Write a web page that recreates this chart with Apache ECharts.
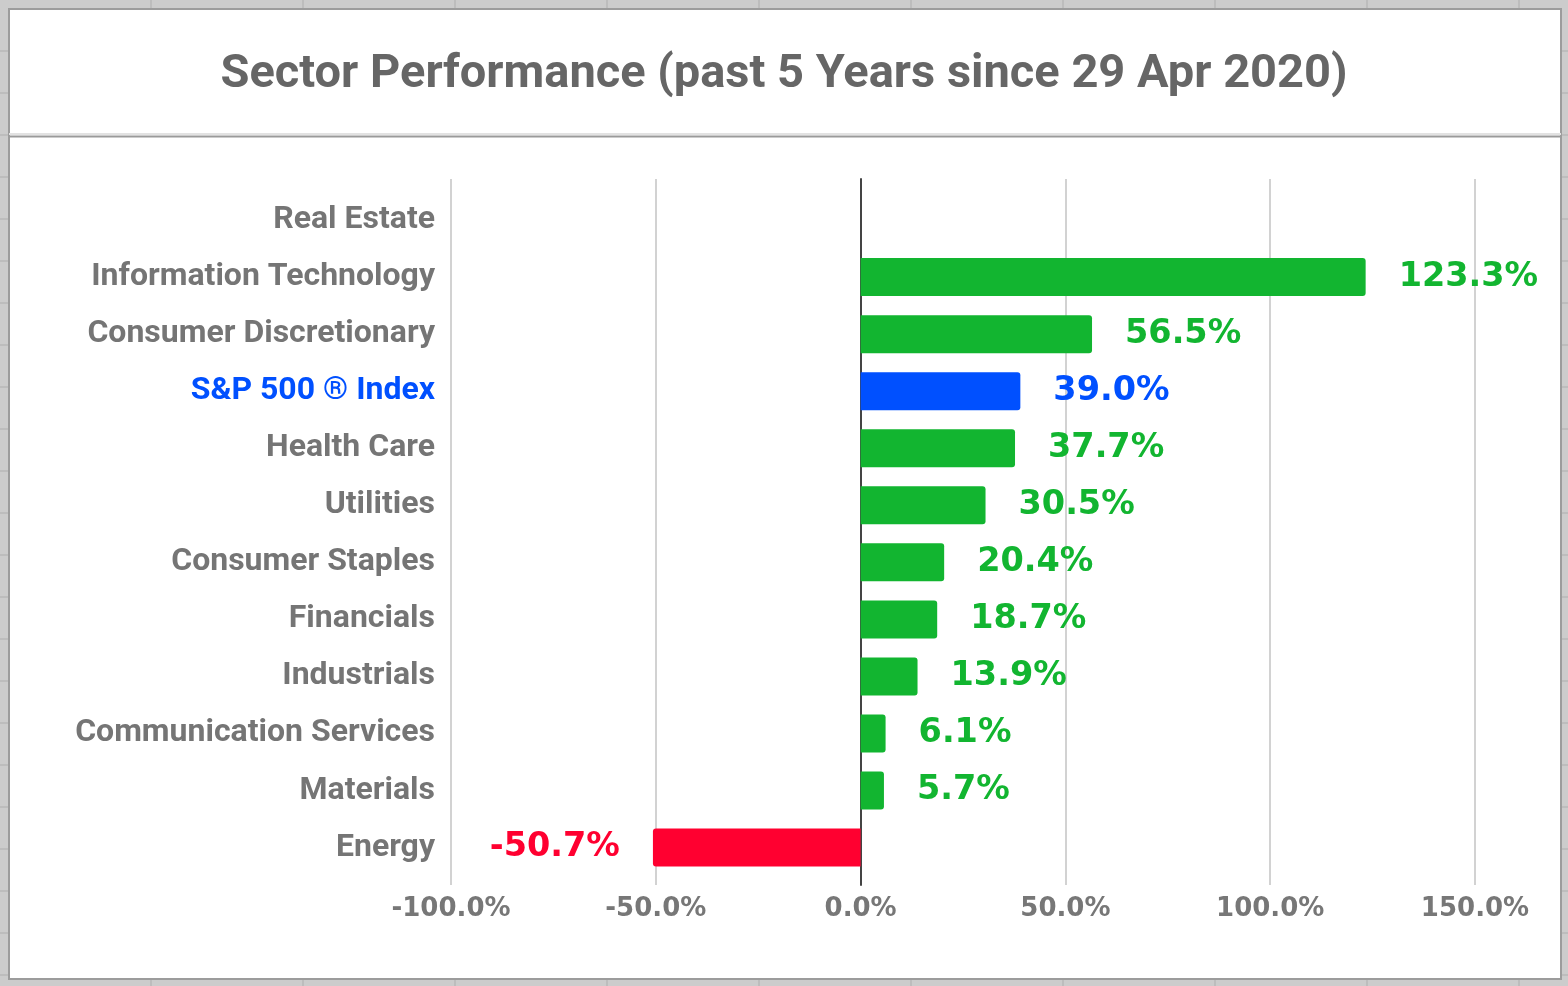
<!DOCTYPE html>
<html>
<head>
<meta charset="utf-8">
<script src="https://cdn.jsdelivr.net/npm/echarts@6/dist/echarts.min.js"></script>
<style>
  html, body { margin: 0; padding: 0; }
  body {
    width: 1568px; height: 986px; overflow: hidden;
    background-color: #cccccc;
    background-image:
      repeating-linear-gradient(to bottom, transparent 0, transparent 40px, #bdbdbd 40px, #bdbdbd 42px),
      repeating-linear-gradient(to right, transparent 0, transparent 150px, #bdbdbd 150px, #bdbdbd 152px);
    background-position: 0 10px, 0 0;
  }
  #container { width: 1568px; height: 986px; }
</style>
</head>
<body>
<div id="container"></div>
<script>
var categories = ['Real Estate', 'Information Technology', 'Consumer Discretionary', 'S&P 500 ® Index',
    'Health Care', 'Utilities', 'Consumer Staples', 'Financials', 'Industrials',
    'Communication Services', 'Materials', 'Energy'];
var values = [null, 123.3, 56.5, 39.0, 37.7, 30.5, 20.4, 18.7, 13.9, 6.1, 5.7, -50.7];
var tickValues = [-100, -50, 0, 50, 100, 150];

var GREEN = '#12b530', BLUE = '#0050ff', RED = '#ff0030';
var indexName = 'S&P 500 ® Index';

function barColor(name, v) {
    if (name === indexName) return BLUE;
    return v < 0 ? RED : GREEN;
}

var dom = document.getElementById('container');
var myChart = echarts.init(dom);

var option = {
    backgroundColor: 'transparent',
    animation: false,
    title: {
        text: 'Sector Performance (past 5 Years since 29 Apr 2020)',
        left: 'center',
        top: 47,
        textStyle: {
            fontFamily: 'Roboto',
            fontWeight: 'bold',
            fontSize: 47,
            color: '#666666'
        }
    },
    graphic: [
        { type: 'rect', z: -100, shape: { x: 9, y: 9, width: 1552, height: 970 },
          style: { fill: '#ffffff', stroke: '#9c9c9c', lineWidth: 2 } },
        { type: 'line', z: -99, shape: { x1: 9, y1: 134, x2: 1561, y2: 134 },
          style: { stroke: '#e2e2e2', lineWidth: 2 } },
        { type: 'line', z: -99, shape: { x1: 9, y1: 136.5, x2: 1561, y2: 136.5 },
          style: { stroke: '#9a9a9a', lineWidth: 2 } }
    ],
    grid: [
        { left: 451, right: 93, top: 191.5, height: 684.6, containLabel: false },
        { left: 451, right: 93, top: 179, bottom: 101, containLabel: false }
    ],
    xAxis: [
        {
            gridIndex: 0, type: 'value', min: -100, max: 150, interval: 50,
            axisLine: { show: false }, axisTick: { show: false },
            axisLabel: { show: false }, splitLine: { show: false }
        },
        {
            gridIndex: 1, type: 'value', min: tickValues[0], max: tickValues[tickValues.length - 1], interval: 50,
            axisLine: { show: false }, axisTick: { show: false },
            splitLine: { show: true, lineStyle: { color: '#d2d2d2', width: 2 } },
            axisLabel: {
                margin: 24,
                verticalAlign: 'middle',
                fontFamily: 'DejaVu Sans',
                fontWeight: 'bold',
                fontSize: 26,
                color: '#777777',
                formatter: function (v) { return v.toFixed(1) + '%'; }
            }
        }
    ],
    yAxis: [
        {
            gridIndex: 0, type: 'category', data: categories, inverse: true,
            axisLine: { show: false }, axisTick: { show: false },
            axisLabel: {
                margin: 16,
                fontFamily: 'Roboto',
                fontWeight: 'bold',
                fontSize: 32,
                color: function (value) {
                    return value === indexName ? BLUE : '#757575';
                }
            }
        },
        {
            gridIndex: 1, type: 'category', data: [''],
            axisLine: { show: true, onZero: true, lineStyle: { color: '#444444', width: 2 } },
            axisTick: { show: false }, axisLabel: { show: false }
        }
    ],
    series: [{
        type: 'bar',
        xAxisIndex: 0,
        yAxisIndex: 0,
        barWidth: 38,
        data: values.map(function (v, i) {
            if (v === null) return null;
            var c = barColor(categories[i], v);
            return {
                value: v,
                itemStyle: { color: c, borderRadius: v < 0 ? [3, 0, 0, 3] : [0, 3, 3, 0] },
                label: {
                    show: true,
                    position: v < 0 ? 'left' : 'right',
                    distance: 33,
                    color: c,
                    fontFamily: 'DejaVu Sans',
                    fontWeight: 'bold',
                    fontSize: 33.5,
                    formatter: function (p) { return p.value.toFixed(1) + '%'; }
                }
            };
        })
    }]
};

myChart.setOption(option, true);
</script>
</body>
</html>
